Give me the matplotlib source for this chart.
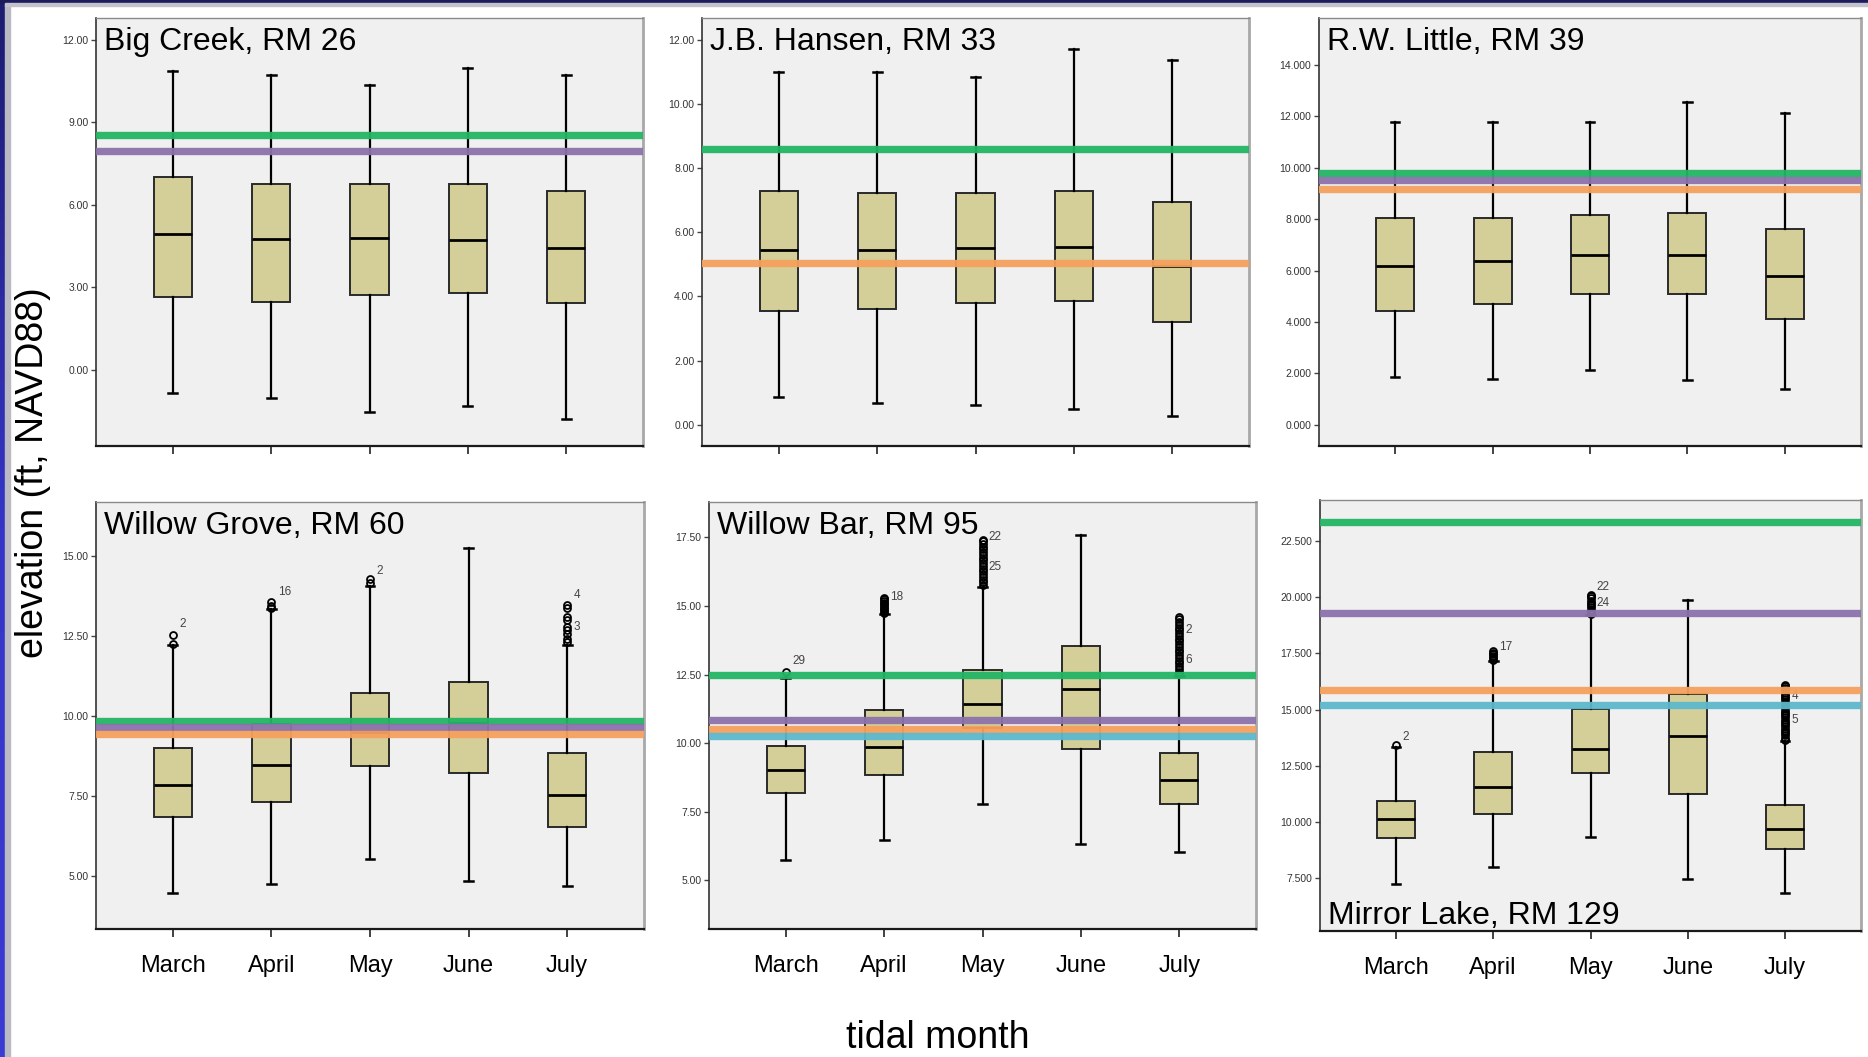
import matplotlib
matplotlib.use("Agg")
import matplotlib.pyplot as plt
import numpy as np
from matplotlib.colors import LinearSegmentedColormap

plt.rcParams['font.family'] = ['Liberation Sans', 'DejaVu Sans']

months = ["March", "April", "May", "June", "July"]
titles = ["Big Creek, RM 26", "J.B. Hansen, RM 33", "R.W. Little, RM 39",
          "Willow Grove, RM 60", "Willow Bar, RM 95", "Mirror Lake, RM 129"]

# ---------------- Big Creek, RM 26 ----------------
bc_lo  = [-0.86, -1.02, -1.56, -1.33, -1.81]
bc_q1  = [2.65, 2.47, 2.73, 2.80, 2.42]
bc_med = [4.95, 4.76, 4.80, 4.73, 4.44]
bc_q3  = [7.01, 6.76, 6.76, 6.76, 6.51]
bc_hi  = [10.87, 10.72, 10.35, 10.97, 10.74]
bc_ref_levels = [8.55, 7.95]
bc_ref_colors = ["green", "purple"]

# ---------------- J.B. Hansen, RM 33 ----------------
jb_lo  = [0.86, 0.68, 0.61, 0.48, 0.29]
jb_q1  = [3.56, 3.60, 3.81, 3.87, 3.20]
jb_med = [5.45, 5.46, 5.51, 5.54, 4.96]
jb_q3  = [7.30, 7.22, 7.24, 7.30, 6.93]
jb_hi  = [11.01, 11.01, 10.85, 11.71, 11.36]
jb_ref_levels = [8.60, 5.05]
jb_ref_colors = ["green", "orange"]

# ---------------- R.W. Little, RM 39 ----------------
rw_lo  = [1.88, 1.77, 2.12, 1.73, 1.40]
rw_q1  = [4.42, 4.71, 5.08, 5.08, 4.12]
rw_med = [6.18, 6.36, 6.61, 6.61, 5.77]
rw_q3  = [8.03, 8.03, 8.16, 8.22, 7.60]
rw_hi  = [11.78, 11.78, 11.78, 12.55, 12.13]
rw_ref_levels = [9.81, 9.51, 9.19]
rw_ref_colors = ["green", "purple", "orange"]

# ---------------- Willow Grove, RM 60 ----------------
wg_lo  = [4.47, 4.75, 5.54, 4.84, 4.69]
wg_q1  = [6.83, 7.32, 8.45, 8.23, 6.52]
wg_med = [7.83, 8.48, 9.48, 9.79, 7.54]
wg_q3  = [9.00, 9.73, 10.71, 11.04, 8.83]
wg_hi  = [12.22, 13.33, 14.06, 15.22, 12.22]
wg_fliers = [
    [12.25, 12.53],
    [13.37, 13.44, 13.54],
    [14.13, 14.26],
    [],
    [12.31, 12.41, 12.55, 12.67, 12.78, 12.98, 13.07, 13.35, 13.45],
]
wg_flier_labels = [(1, 12.85, "2"), (2, 13.86, "16"), (3, 14.52, "2"),
                   (5, 13.76, "4"), (5, 12.78, "3")]
wg_ref_levels = [9.84, 9.65, 9.42]
wg_ref_colors = ["green", "purple", "orange"]

# ---------------- Willow Bar, RM 95 ----------------
wb_lo  = [5.76, 6.47, 7.79, 6.31, 6.04]
wb_q1  = [8.19, 8.85, 10.57, 9.79, 7.78]
wb_med = [9.04, 9.88, 11.43, 11.98, 8.65]
wb_q3  = [9.89, 11.20, 12.66, 13.53, 9.66]
wb_hi  = [12.39, 14.70, 15.70, 17.57, 12.45]
wb_fliers = [
    [12.60],
    [14.76, 14.82, 14.88, 14.94, 15.00, 15.06, 15.12, 15.18, 15.24, 15.30],
    [15.76, 15.86, 15.96, 16.06, 16.16, 16.26, 16.36, 16.46, 16.56, 16.66,
     16.76, 16.86, 16.96, 17.06, 17.16, 17.26, 17.36, 17.42],
    [],
    [12.51, 12.61, 12.71, 12.81, 12.91, 13.01, 13.11, 13.21, 13.31, 13.41,
     13.51, 13.61, 13.71, 13.81, 13.91, 14.01, 14.11, 14.21, 14.31, 14.41,
     14.51, 14.60],
]
wb_flier_labels = [(1, 12.99, "29"), (2, 15.33, "18"), (3, 17.50, "22"),
                   (3, 16.41, "25"), (5, 14.11, "2"), (5, 13.02, "6")]
wb_ref_levels = [12.48, 10.85, 10.51, 10.28]
wb_ref_colors = ["green", "purple", "orange", "blue"]

# ---------------- Mirror Lake, RM 129 ----------------
ml_lo  = [7.25, 8.00, 9.33, 7.49, 6.85]
ml_q1  = [9.28, 10.36, 12.19, 11.23, 8.82]
ml_med = [10.13, 11.55, 13.25, 13.85, 9.69]
ml_q3  = [10.93, 13.12, 15.03, 15.70, 10.77]
ml_hi  = [13.34, 17.15, 19.20, 19.88, 13.60]
ml_fliers = [
    [13.45],
    [17.22, 17.30, 17.38, 17.46, 17.54, 17.59],
    [19.25, 19.35, 19.45, 19.55, 19.65, 19.75, 19.85, 19.95, 20.05, 20.10],
    [],
    [13.66, 13.76, 13.86, 13.96, 14.06, 14.16, 14.26, 14.36, 14.46, 14.56,
     14.66, 14.76, 14.86, 14.96, 15.06, 15.16, 15.26, 15.36, 15.46, 15.56,
     15.66, 15.76, 15.86, 15.96, 16.06, 16.08],
]
ml_flier_labels = [(1, 13.79, "2"), (2, 17.77, "17"), (3, 20.47, "22"),
                   (3, 19.75, "24"), (5, 15.59, "4"), (5, 14.56, "5")]
ml_ref_levels = [23.34, 19.28, 15.86, 15.21]
ml_ref_colors = ["green", "purple", "orange", "blue"]

# y-axis ticks per panel
bc_yticks = [0, 3, 6, 9, 12]
jb_yticks = [0, 2, 4, 6, 8, 10, 12]
rw_yticks = [0, 2, 4, 6, 8, 10, 12, 14]
wg_yticks = [5, 7.5, 10, 12.5, 15]
wb_yticks = [5, 7.5, 10, 12.5, 15, 17.5]
ml_yticks = [7.5, 10, 12.5, 15, 17.5, 20, 22.5]

# ---------------- styling ----------------
W, H = 1868, 1057
ref_palette = {"green": "#22b565", "purple": "#8c72ab", "orange": "#f5a05c",
               "blue": "#5cb8cc"}
box_face = "#d4cf98"
ax_bg = "#f0f0f0"

panels = [
    dict(lo=bc_lo, q1=bc_q1, med=bc_med, q3=bc_q3, hi=bc_hi, fliers=None, labels=[],
         refs=bc_ref_levels, refc=bc_ref_colors, yticks=bc_yticks, fmt="%.2f",
         ylim=(-2.78, 12.8), rect=(96, 18, 643, 446), title_top=True),
    dict(lo=jb_lo, q1=jb_q1, med=jb_med, q3=jb_q3, hi=jb_hi, fliers=None, labels=[],
         refs=jb_ref_levels, refc=jb_ref_colors, yticks=jb_yticks, fmt="%.2f",
         ylim=(-0.66, 12.68), rect=(702, 18, 1249, 446), title_top=True),
    dict(lo=rw_lo, q1=rw_q1, med=rw_med, q3=rw_q3, hi=rw_hi, fliers=None, labels=[],
         refs=rw_ref_levels, refc=rw_ref_colors, yticks=rw_yticks, fmt="%.3f",
         ylim=(-0.82, 15.82), rect=(1319, 18, 1861, 446), title_top=True),
    dict(lo=wg_lo, q1=wg_q1, med=wg_med, q3=wg_q3, hi=wg_hi, fliers=wg_fliers,
         labels=wg_flier_labels, refs=wg_ref_levels, refc=wg_ref_colors,
         yticks=wg_yticks, fmt="%.2f", ylim=(3.35, 16.67),
         rect=(96, 502, 644, 929), title_top=True),
    dict(lo=wb_lo, q1=wb_q1, med=wb_med, q3=wb_q3, hi=wb_hi, fliers=wb_fliers,
         labels=wb_flier_labels, refs=wb_ref_levels, refc=wb_ref_colors,
         yticks=wb_yticks, fmt="%.2f", ylim=(3.23, 18.79),
         rect=(709, 502, 1256, 929), title_top=True),
    dict(lo=ml_lo, q1=ml_q1, med=ml_med, q3=ml_q3, hi=ml_hi, fliers=ml_fliers,
         labels=ml_flier_labels, refs=ml_ref_levels, refc=ml_ref_colors,
         yticks=ml_yticks, fmt="%.3f", ylim=(5.16, 24.32),
         rect=(1320, 500, 1861, 931), title_top=False),
]

fig = plt.figure(figsize=(W / 100, H / 100), dpi=100, facecolor="white")

# slide decorations: left bar gradient and top rule
bar_ax = fig.add_axes([0, 0, 5 / W, 1])
grad = np.linspace(0, 1, 256).reshape(-1, 1)
cmap = LinearSegmentedColormap.from_list("bar", ["#3a3ad4", "#3535c8", "#1c1c70"])
bar_ax.imshow(grad, aspect="auto", cmap=cmap, origin="lower")
bar_ax.axis("off")
fig.patches.append(plt.Rectangle((5 / W, 0), 4.5 / W, 1, transform=fig.transFigure,
                                 color="#b9b9c4", zorder=0))
fig.patches.append(plt.Rectangle((0, 1 - 3 / H), 1, 3 / H, transform=fig.transFigure,
                                 color="#1c1c5c", zorder=1))
fig.patches.append(plt.Rectangle((5 / W, 1 - 5.5 / H), 1, 2.5 / H,
                                 transform=fig.transFigure, color="#c2c2cc", zorder=1))

positions = [1, 2, 3, 4, 5]
for i, p in enumerate(panels):
    l, t, r, b = p["rect"]
    ax = fig.add_axes([l / W, 1 - b / H, (r - l) / W, (b - t) / H])
    ax.set_facecolor(ax_bg)

    stats = []
    for k in range(5):
        stats.append(dict(med=p["med"][k], q1=p["q1"][k], q3=p["q3"][k],
                          whislo=p["lo"][k], whishi=p["hi"][k],
                          fliers=(p["fliers"][k] if p["fliers"] else [])))
    ax.bxp(stats, positions=positions, widths=0.39, capwidths=0.09,
           patch_artist=True, showfliers=True,
           boxprops=dict(facecolor=box_face, edgecolor="#2a2a2a", linewidth=1.4),
           medianprops=dict(color="black", linewidth=2.0),
           whiskerprops=dict(color="black", linewidth=1.6),
           capprops=dict(color="black", linewidth=1.8),
           flierprops=dict(marker="o", markerfacecolor="none", markeredgecolor="black",
                           markersize=5, markeredgewidth=1.3))

    for lev, c in zip(p["refs"], p["refc"]):
        ax.axhline(lev, color=ref_palette[c], linewidth=5.3, alpha=0.95, zorder=5)

    for (pos, yv, txt) in p["labels"]:
        ax.annotate(txt, xy=(pos, yv), xytext=(4.5, 0), textcoords="offset points",
                    fontsize=8.5, color="#444444", ha="left", va="center")

    ax.set_xlim(0.22, 5.78)
    ax.set_ylim(*p["ylim"])
    ax.set_yticks(p["yticks"])
    ax.set_yticklabels([p["fmt"] % v for v in p["yticks"]], fontsize=7.5, color="#333333")
    ax.set_xticks(positions)
    if i >= 3:
        ax.set_xticklabels(months, fontsize=17)
    else:
        ax.set_xticklabels([])
    ax.tick_params(axis="x", length=5.5, width=1.2, color="#222222", pad=13)
    ax.tick_params(axis="y", length=3.5, width=1.0, color="#444444", pad=2)

    ax.spines["left"].set_color("#333333")
    ax.spines["left"].set_linewidth(1.2)
    ax.spines["bottom"].set_color("#1a1a1a")
    ax.spines["bottom"].set_linewidth(1.6)
    ax.spines["top"].set_color("#8a8a8a")
    ax.spines["top"].set_linewidth(1.0)
    ax.spines["right"].set_color("#a8a8a8")
    ax.spines["right"].set_linewidth(2.0)

    if p["title_top"]:
        ax.annotate(titles[i], xy=(0, 1), xycoords="axes fraction", xytext=(5.8, -17.5),
                    textcoords="offset points", fontsize=23, ha="left", va="center",
                    color="black", zorder=10)
    else:
        ax.annotate(titles[i], xy=(0, 0), xycoords="axes fraction", xytext=(5.8, 10.5),
                    textcoords="offset points", fontsize=23, ha="left", va="center",
                    color="black", zorder=10)

fig.text(33 / W, 1 - 473 / H, "elevation (ft, NAVD88)", rotation=90, fontsize=27,
         ha="center", va="center")
fig.text(938 / W, 1 - 1038 / H, "tidal month", fontsize=27, ha="center", va="center")

fig.savefig("out.png", dpi=100, facecolor="white")
